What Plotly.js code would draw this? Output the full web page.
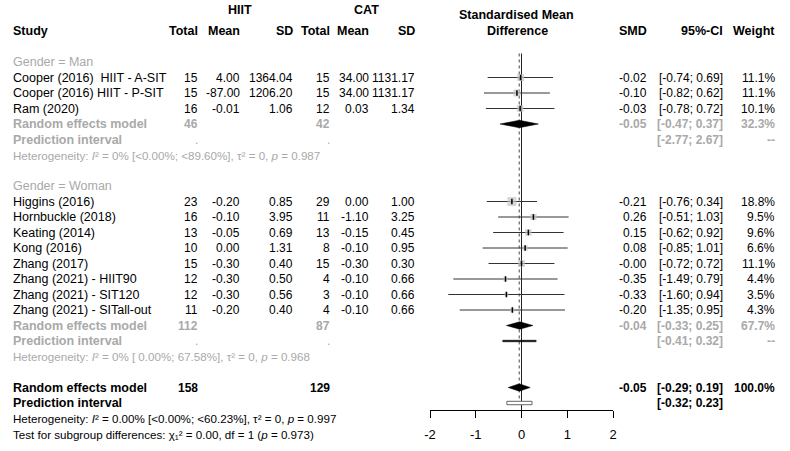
<!DOCTYPE html>
<html><head><meta charset="utf-8">
<script src="https://cdn.plot.ly/plotly-3.0.1.min.js"></script>
<style>html,body{margin:0;padding:0;background:#fff}#chart{width:790px;height:451px}</style>
</head><body><div id="chart"></div>
<script>
// ---------- data ----------
const studies = ["Cooper (2016)\u00a0 HIIT - A-SIT","Cooper (2016) HIIT - P-SIT","Ram (2020)",
  "Higgins (2016)","Hornbuckle (2018)","Keating (2014)","Kong (2016)","Zhang (2017)",
  "Zhang (2021) - HIIT90","Zhang (2021) - SIT120","Zhang (2021) - SITall-out"];
const studyGroup = ["Man","Man","Man","Woman","Woman","Woman","Woman","Woman","Woman","Woman","Woman"];
const hiitTotal = [15,15,16,23,16,13,10,15,12,12,11];
const hiitMean  = [4.00,-87.00,-0.01,-0.20,-0.10,-0.05,0.00,-0.30,-0.30,-0.30,-0.20];
const hiitSD    = [1364.04,1206.20,1.06,0.85,3.95,0.69,1.31,0.40,0.50,0.56,0.40];
const catTotal  = [15,15,12,29,11,13,8,15,4,3,4];
const catMean   = [34.00,34.00,0.03,0.00,-1.10,-0.15,-0.10,-0.30,-0.10,-0.10,-0.10];
const catSD     = [1131.17,1131.17,1.34,1.00,3.25,0.45,0.95,0.30,0.66,0.66,0.66];
const smd       = [-0.02,-0.10,-0.03,-0.21,0.26,0.15,0.08,-0,-0.35,-0.33,-0.20];
const ciLow     = [-0.74,-0.82,-0.78,-0.76,-0.51,-0.62,-0.85,-0.72,-1.49,-1.60,-1.35];
const ciHigh    = [0.69,0.62,0.72,0.34,1.03,0.92,1.01,0.72,0.79,0.94,0.95];
const weight    = [11.1,11.1,10.1,18.8,9.5,9.6,6.6,11.1,4.4,3.5,4.3];

const subgroups     = ["Man","Woman"];
const subHiitTotal  = [46,112];
const subCatTotal   = [42,87];
const subSmd        = [-0.05,-0.04];
const subLow        = [-0.47,-0.33];
const subHigh       = [0.37,0.25];
const subWeight     = [32.3,67.7];
const subPiLow      = [-2.77,-0.41];
const subPiHigh     = [2.67,0.32];
const subI2         = ["0%","0%"];
const subI2CI       = ["[&lt;0.00%; &lt;89.60%]","[ 0.00%; 67.58%]"];
const subTau2       = [0,0];
const subP          = [0.987,0.968];

const totHiit = 158, totCat = 129;
const totSmd = -0.05, totLow = -0.29, totHigh = 0.19, totWeight = 100.0;
const totPiLow = -0.32, totPiHigh = 0.23;
const totI2 = "0.00%", totI2CI = "[&lt;0.00%; &lt;60.23%]", totTau2 = 0, totP = 0.997;
const testChi2 = 0.00, testDf = 1, testP = 0.973;

const xTicks = [-2,-1,0,1,2];

// ---------- helpers ----------
const FONT = "Liberation Sans, Arial, sans-serif";
const GREY = "#a9a9a9";
const FS = 12.5, FS_NUM = 12, FS_SMALL = 11.6;
const f2 = v => ((v < 0 || Object.is(v,-0)) ? "-" : "") + Math.abs(v).toFixed(2);
const fci = (lo,hi) => "[" + f2(lo) + "; " + f2(hi) + "]";
const fw = w => w.toFixed(1) + "%";

const W = 790, HGT = 451;
const ROW0 = 62, ROWH = 15.5, AXIS_Y = 410;
const rowAt = px => (px - ROW0) / ROWH;
const rAxis = rowAt(AXIS_Y);
const COL = {study:12, hN:199, hM:241, hSD:294, cN:331, cM:370, cSD:416, smd:648, ci:724, w:776};
const anns = [];
function T(text, xpx, r, anchor, opt) {
  opt = opt || {};
  const a = {text: opt.bold ? "<b>"+text+"</b>" : text, x: xpx/W, xref:"paper",
    xanchor: anchor, yanchor:"middle", showarrow:false, borderpad:0,
    font:{family:FONT, size: opt.size || FS, color: opt.color || "#000"}};
  if (r > rAxis) { a.yref = "paper"; a.y = 1 - (ROW0 + r*ROWH)/HGT; }
  else { a.yref = "y"; a.y = r; }
  anns.push(a);
}
const N = (text, xpx, r, opt) => T(text, xpx, r, "right", Object.assign({size:FS_NUM}, opt || {}));
const het = (i2, i2ci, tau2, p) =>
  "Heterogeneity: <i>I</i>\u00b2 = " + i2 + " " + i2ci + ", \u03c4\u00b2 = " + tau2 + ", <i>p</i> = " + p.toFixed(3);

// headers
T("HIIT", 240, -3.35, "center", {bold:true});
T("CAT", 366, -3.35, "center", {bold:true});
T("Standardised Mean", 516, -3.05, "center", {bold:true});
T("Study", COL.study, -2.0, "left", {bold:true});
[["Total",COL.hN],["Mean",COL.hM],["SD",COL.hSD],["Total",COL.cN],["Mean",COL.cM],["SD",COL.cSD],
 ["SMD",COL.smd],["95%-CI",COL.ci],["Weight",COL.w]].forEach(h => T(h[0], h[1], -2.0, "right", {bold:true}));
T("Difference", 517, -2.0, "center", {bold:true});

// rows
const ciX=[], ciY=[], sqX=[], sqY=[], sqS=[], diaX=[], diaY=[];
const piFillX=[], piFillY=[];
let r = 0;
const H = 0.24;
function diamond(est, lo, hi, row) {
  diaX.push(lo, est, hi, est, lo, null);
  diaY.push(row, row-H, row, row+H, row, null);
}
subgroups.forEach((g, gi) => {
  T("Gender = " + g, COL.study, r, "left", {color:GREY});
  r++;
  studies.forEach((s, i) => {
    if (studyGroup[i] !== g) return;
    T(s, COL.study, r, "left");
    N(String(hiitTotal[i]), COL.hN, r);
    N(f2(hiitMean[i]), COL.hM, r);
    N(f2(hiitSD[i]), COL.hSD, r);
    N(String(catTotal[i]), COL.cN, r);
    N(f2(catMean[i]), COL.cM, r);
    N(f2(catSD[i]), COL.cSD, r);
    N(f2(smd[i]), COL.smd, r);
    N(fci(ciLow[i], ciHigh[i]), COL.ci, r);
    N(fw(weight[i]), COL.w, r);
    ciX.push(ciLow[i], ciHigh[i], null); ciY.push(r, r, null);
    sqX.push(smd[i]); sqY.push(r); sqS.push(2.05*Math.sqrt(weight[i]));
    r++;
  });
  T("Random effects model", COL.study, r, "left", {bold:true, color:GREY});
  N(String(subHiitTotal[gi]), COL.hN, r, {bold:true, color:GREY});
  N(String(subCatTotal[gi]), COL.cN, r, {bold:true, color:GREY});
  N(f2(subSmd[gi]), COL.smd, r, {bold:true, color:GREY});
  N(fci(subLow[gi], subHigh[gi]), COL.ci, r, {bold:true, color:GREY});
  N(fw(subWeight[gi]), COL.w, r, {bold:true, color:GREY});
  diamond(subSmd[gi], subLow[gi], subHigh[gi], r);
  r++;
  T("Prediction interval", COL.study, r, "left", {bold:true, color:GREY});
  N(".", COL.hN, r, {color:GREY});
  N(".", COL.cN, r, {color:GREY});
  N(fci(subPiLow[gi], subPiHigh[gi]), COL.ci, r, {bold:true, color:GREY});
  N("--", COL.w, r, {bold:true, color:GREY});
  if (subPiLow[gi] >= xTicks[0] && subPiHigh[gi] <= xTicks[xTicks.length-1]) {
    piFillX.push(subPiLow[gi], subPiHigh[gi], subPiHigh[gi], subPiLow[gi], subPiLow[gi], null);
    piFillY.push(r-0.05, r-0.05, r+0.05, r+0.05, r-0.05, null);
  }
  r++;
  T(het(subI2[gi], subI2CI[gi], subTau2[gi], subP[gi]), COL.study, r, "left", {size:FS_SMALL, color:GREY});
  r += 2;
});
T("Random effects model", COL.study, r, "left", {bold:true});
N(String(totHiit), COL.hN, r, {bold:true});
N(String(totCat), COL.cN, r, {bold:true});
N(f2(totSmd), COL.smd, r, {bold:true});
N(fci(totLow, totHigh), COL.ci, r, {bold:true});
N(fw(totWeight), COL.w, r, {bold:true});
diamond(totSmd, totLow, totHigh, r);
r++;
const rPi = r;
T("Prediction interval", COL.study, r, "left", {bold:true});
N(fci(totPiLow, totPiHigh), COL.ci, r, {bold:true});
r++;
T(het(totI2, totI2CI, totTau2, totP), COL.study, r, "left", {size:FS_SMALL});
r++;
T("Test for subgroup differences: \u03c7\u2081\u00b2 = " + testChi2.toFixed(2) + ", df = " + testDf +
  " (<i>p</i> = " + testP.toFixed(3) + ")", COL.study, r, "left", {size:FS_SMALL});

const traces = [
  {x:[0,0], y:[-0.55, rAxis], mode:"lines", line:{color:"#222", width:1}, hoverinfo:"skip"},
  {x:[totSmd,totSmd], y:[-0.55, rPi-0.15], mode:"lines", line:{color:"#444", width:1, dash:"dot"}, hoverinfo:"skip"},
  {x:ciX, y:ciY, mode:"lines", line:{color:"#333", width:1}, hoverinfo:"skip"},
  {x:sqX, y:sqY, mode:"markers", marker:{symbol:"square", size:sqS, color:"#c4c4c4", line:{width:0}}, hoverinfo:"skip"},
  {x:sqX, y:sqY, mode:"markers", marker:{symbol:"line-ns", size:4, line:{width:1.5, color:"#000"}}, hoverinfo:"skip"},
  {x:diaX, y:diaY, mode:"lines", fill:"toself", fillcolor:"#000", line:{color:"#000", width:0.5}, hoverinfo:"skip"},
  {x:piFillX, y:piFillY, mode:"lines", fill:"toself", fillcolor:"#000", line:{color:"#000", width:0.5}, hoverinfo:"skip"},
  {x:[totPiLow,totPiHigh,totPiHigh,totPiLow,totPiLow], y:[rPi-0.11,rPi-0.11,rPi+0.11,rPi+0.11,rPi-0.11],
   mode:"lines", fill:"toself", fillcolor:"#fff", line:{color:"#666", width:1}, hoverinfo:"skip"}
];

const layout = {
  width: W, height: HGT, margin:{l:0,r:0,t:0,b:0},
  paper_bgcolor:"#fff", plot_bgcolor:"rgba(0,0,0,0)", showlegend:false,
  xaxis:{domain:[430/W, 613/W], range:[xTicks[0], xTicks[xTicks.length-1]], tickvals:xTicks,
    ticktext:xTicks.map(String), ticks:"outside", ticklen:7, tickcolor:"#000", tickwidth:1,
    showline:true, linecolor:"#000", linewidth:1, showgrid:false, zeroline:false,
    ticklabelstandoff:5, tickfont:{family:FONT, size:13, color:"#000"}, fixedrange:true},
  yaxis:{domain:[(HGT-AXIS_Y)/HGT, 1], range:[rAxis, rowAt(0)], visible:false, fixedrange:true},
  annotations: anns
};
Plotly.newPlot("chart", traces, layout, {staticPlot:true, displayModeBar:false});
</script></body></html>
